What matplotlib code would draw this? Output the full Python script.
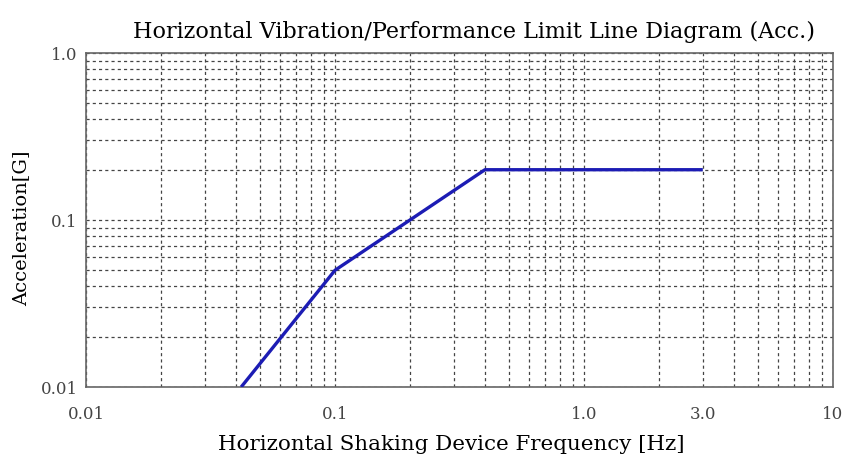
import matplotlib.pyplot as plt
from matplotlib.ticker import FixedLocator, NullFormatter

# performance limit line (frequency in Hz, acceleration in G)
freq = [0.042, 0.1, 0.4, 3.0]
acc = [0.01, 0.05, 0.2, 0.2]

x_ticks = [0.01, 0.1, 1.0, 3.0, 10]
x_tick_labels = ['0.01', '0.1', '1.0', '3.0', '10']
y_ticks = [0.01, 0.1, 1.0]
y_tick_labels = ['0.01', '0.1', '1.0']

plt.rcParams['font.family'] = ['DejaVu Serif']

fig = plt.figure(figsize=(8.47, 4.61), dpi=100)
ax = fig.add_axes([86 / 847, 1 - 387 / 461, (833 - 86) / 847, (387 - 53) / 461])

ax.plot(freq, acc, color='#1c1cb4', lw=2.4, solid_capstyle='butt', zorder=3)

ax.set_xscale('log')
ax.set_yscale('log')
ax.set_xlim(0.01, 10)
ax.set_ylim(0.01, 1.0)

ax.xaxis.set_major_locator(FixedLocator(x_ticks))
ax.set_xticklabels(x_tick_labels)
ax.yaxis.set_major_locator(FixedLocator(y_ticks))
ax.set_yticklabels(y_tick_labels)
ax.xaxis.set_minor_formatter(NullFormatter())
ax.yaxis.set_minor_formatter(NullFormatter())

ax.tick_params(which='both', length=0, labelsize=12, labelcolor='#444444')
ax.tick_params(axis='x', pad=14)
ax.tick_params(axis='y', pad=6)

ax.grid(True, which='both', color='#444444', lw=0.9, ls=(0, (2.5, 2.5)))
for s in ax.spines.values():
    s.set_color('#666666')
    s.set_linewidth(1.2)

ax.set_xlabel('Horizontal Shaking Device Frequency [Hz]', fontsize=15.4)
ax.xaxis.set_label_coords((451 - 86) / 747, -(435 - 387) / 334)
ax.set_ylabel('Acceleration[G]', fontsize=14)
ax.yaxis.set_label_coords(-(86 - 30) / 747, (387 - 228) / 334)
fig.text(474 / 847, 1 - 32 / 461, 'Horizontal Vibration/Performance Limit Line Diagram (Acc.)',
         fontsize=16, ha='center', va='center')

fig.savefig('out.png', dpi=100)
